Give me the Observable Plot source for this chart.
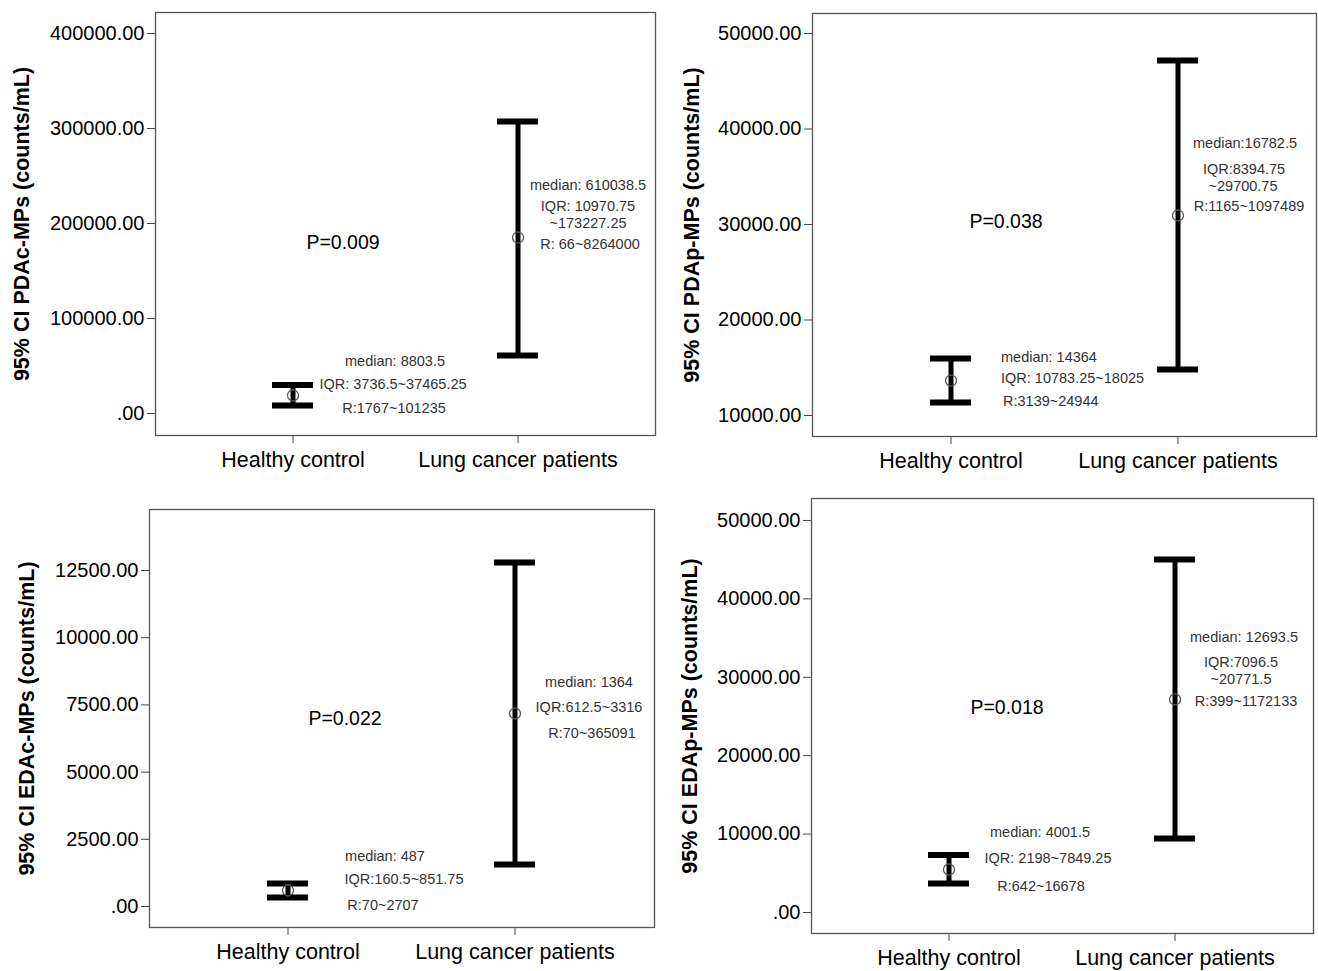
<!DOCTYPE html>
<html><head><meta charset="utf-8">
<script src="https://cdn.jsdelivr.net/npm/d3@7"></script>
<script src="https://cdn.jsdelivr.net/npm/@observablehq/plot@0.6"></script>
<style>
body{margin:0;background:#fff;}
#wrap{position:relative;width:1318px;height:971px;background:#fff;overflow:hidden;}
.panel{position:absolute;}
</style></head><body><div id="wrap"></div>
<script>
// ---------- data ----------
const groups = ["Healthy control", "Lung cancer patients"];

// Panel A: PDAc-MPs
const pdacTitle = "95% CI PDAc-MPs (counts/mL)";
const pdacLow = [8420, 61050];
const pdacMean = [18950, 185260];
const pdacHigh = [30000, 307370];
const pdacTicks = [0, 100000, 200000, 300000, 400000];
const pdacDomain = [-23160, 422100];
const pdacP = "P=0.009";
const pdacPValue = 180000;
const pdacNotes = ["median: 8803.5", "IQR: 3736.5~37465.25", "R:1767~101235", "median: 610038.5", "IQR: 10970.75", "~173227.25", "R: 66~8264000"];
const pdacNoteGroup = [0, 0, 0, 1, 1, 1, 1];
const pdacNoteValue = [54700, 30500, 5300, 240500, 218400, 200500, 178400];

// Panel B: PDAp-MPs
const pdapTitle = "95% CI PDAp-MPs (counts/mL)";
const pdapLow = [11360, 14820];
const pdapMean = [13660, 30940];
const pdapHigh = [15970, 47170];
const pdapTicks = [10000, 20000, 30000, 40000, 50000];
const pdapDomain = [7801, 52094];
const pdapP = "P=0.038";
const pdapPValue = 30310;
const pdapNotes = ["median: 14364", "IQR: 10783.25~18025", "R:3139~24944", "median:16782.5", "IQR:8394.75", "~29700.75", "R:1165~1097489"];
const pdapNoteGroup = [0, 0, 0, 1, 1, 1, 1];
const pdapNoteValue = [16070, 13870, 11470, 38480, 35810, 34030, 31880];

// Panel C: EDAc-MPs
const edacTitle = "95% CI EDAc-MPs (counts/mL)";
const edacLow = [335, 1562];
const edacMean = [595, 7180];
const edacHigh = [856, 12798];
const edacTicks = [0, 2500, 5000, 7500, 10000, 12500];
const edacDomain = [-781, 14770];
const edacP = "P=0.022";
const edacPValue = 6994;
const edacNotes = ["median: 487", "IQR:160.5~851.75", "R:70~2707", "median: 1364", "IQR:612.5~3316", "R:70~365091"];
const edacNoteGroup = [0, 0, 0, 1, 1, 1];
const edacNoteValue = [1860, 1004, 37, 8333, 7403, 6436];

// Panel D: EDAp-MPs
const edapTitle = "95% CI EDAp-MPs (counts/mL)";
const edapLow = [3699, 9439];
const edapMean = [5485, 27168];
const edapHigh = [7334, 45025];
const edapTicks = [0, 10000, 20000, 30000, 40000, 50000];
const edapDomain = [-2680, 52800];
const edapP = "P=0.018";
const edapPValue = 26150;
const edapNotes = ["median: 4001.5", "IQR: 2198~7849.25", "R:642~16678", "median: 12693.5", "IQR:7096.5", "~20771.5", "R:399~1172133"];
const edapNoteGroup = [0, 0, 0, 1, 1, 1, 1];
const edapNoteValue = [10200, 6890, 3320, 35080, 31950, 29780, 26910];

// ---------- layout ----------
const FONT = '"Liberation Sans", Arial, Helvetica, sans-serif';
const panels = [
  {data: {title: pdacTitle, low: pdacLow, mean: pdacMean, high: pdacHigh, ticks: pdacTicks, domain: pdacDomain, p: pdacP, pValue: pdacPValue, notes: pdacNotes, noteGroup: pdacNoteGroup, noteValue: pdacNoteValue},
   left: 0, top: 0, w: 659, h: 485, mL: 155, mR: 4, mT: 12, mB: 50, labelOffset: 142, pDx: 50,
   noteDx: [102, 100, 101, 70, 70, 70, 72], noteAnchor: ["middle","middle","middle","middle","middle","middle","middle"]},
  {data: {title: pdapTitle, low: pdapLow, mean: pdapMean, high: pdapHigh, ticks: pdapTicks, domain: pdapDomain, p: pdapP, pValue: pdapPValue, notes: pdapNotes, noteGroup: pdapNoteGroup, noteValue: pdapNoteValue},
   left: 659, top: 0, w: 659, h: 485, mL: 153, mR: 2, mT: 13, mB: 49, labelOffset: 129, pDx: 55,
   noteDx: [50, 50, 52, 67, 66, 65, 71], noteAnchor: ["start","start","start","middle","middle","middle","middle"]},
  {data: {title: edacTitle, low: edacLow, mean: edacMean, high: edacHigh, ticks: edacTicks, domain: edacDomain, p: edacP, pValue: edacPValue, notes: edacNotes, noteGroup: edacNoteGroup, noteValue: edacNoteValue},
   left: 0, top: 485, w: 659, h: 486, mL: 149, mR: 5, mT: 24, mB: 44, labelOffset: 131, pDx: 57,
   noteDx: [97, 116, 95, 74, 74, 77], noteAnchor: ["middle","middle","middle","middle","middle","middle"]},
  {data: {title: edapTitle, low: edapLow, mean: edapMean, high: edapHigh, ticks: edapTicks, domain: edapDomain, p: edapP, pValue: edapPValue, notes: edapNotes, noteGroup: edapNoteGroup, noteValue: edapNoteValue},
   left: 659, top: 485, w: 659, h: 486, mL: 152, mR: 5, mT: 13, mB: 38, labelOffset: 130, pDx: 58,
   noteDx: [91, 99, 92, 69, 66, 66, 71], noteAnchor: ["middle","middle","middle","middle","middle","middle","middle"]}
];

const fmt = v => v === 0 ? ".00" : v.toFixed(2);
const wrap = document.getElementById("wrap");

for (const cfg of panels) {
  const d = cfg.data;
  const rows = groups.map((g, i) => ({g, lo: d.low[i], mid: d.mean[i], hi: d.high[i]}));
  const notes = d.notes.map((t, i) => ({t, g: groups[d.noteGroup[i]], v: d.noteValue[i], dx: cfg.noteDx[i], anchor: cfg.noteAnchor[i]}));
  const plot = Plot.plot({
    width: cfg.w, height: cfg.h,
    marginLeft: cfg.mL, marginRight: cfg.mR, marginTop: cfg.mT, marginBottom: cfg.mB,
    style: {fontFamily: FONT, background: "white", color: "black", overflow: "visible"},
    x: {type: "band", domain: groups, paddingInner: 0.818, paddingOuter: 0.518, label: null},
    y: {domain: d.domain, label: d.title},
    marks: [
      Plot.frame({stroke: "#555", strokeWidth: 1.3}),
      Plot.axisY(d.ticks, {tickFormat: fmt, tickSize: 8, tickPadding: 3, fontSize: 20, stroke: "#444",
        label: d.title, labelAnchor: "center", labelArrow: "none", labelOffset: cfg.labelOffset}),
      Plot.axisX({tickSize: 8, tickPadding: 8, fontSize: 21.5, label: null, stroke: "#444"}),
      Plot.ruleX(rows, {x: "g", y1: "lo", y2: "hi", strokeWidth: 5, stroke: "black"}),
      Plot.tickY(rows, {x: "g", y: "lo", strokeWidth: 6, stroke: "black"}),
      Plot.tickY(rows, {x: "g", y: "hi", strokeWidth: 6, stroke: "black"}),
      Plot.dot(rows, {x: "g", y: "mid", r: 5.5, stroke: "#555", strokeWidth: 1.3, fill: "none"}),
      Plot.text([d.p], {x: () => groups[0], y: () => d.pValue, text: t => t, dx: cfg.pDx, fontSize: 19.5, fill: "black"}),
      ...notes.map(n => Plot.text([n], {x: "g", y: "v", text: "t", dx: n.dx, textAnchor: n.anchor, fontSize: 14.5, fill: "#333"}))
    ]
  });
  plot.classList.add("panel");
  plot.style.left = cfg.left + "px";
  plot.style.top = cfg.top + "px";
  wrap.appendChild(plot);
  const lab = plot.querySelector('[aria-label="y-axis label"]');
  if (lab) { lab.style.fontSize = "21.5px"; lab.style.fontWeight = "bold"; }
}
</script></body></html>
